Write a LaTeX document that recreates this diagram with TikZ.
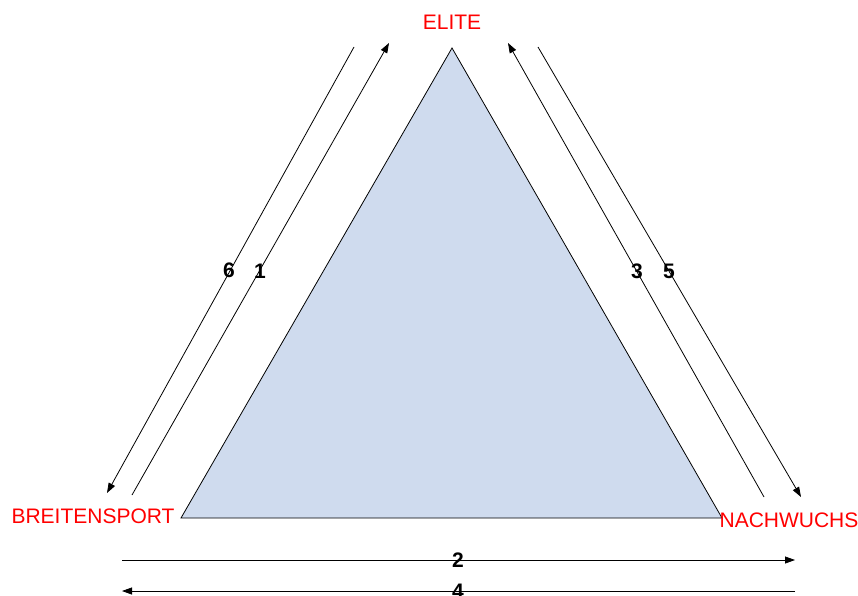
\documentclass[tikz,border=0pt]{standalone}
\usepackage{fontspec}
\setmainfont{Liberation Sans}
\usetikzlibrary{arrows.meta}
\definecolor{trifill}{HTML}{CFDBEE}
\tikzset{
  lbl/.style={text=red, inner sep=0pt, font=\fontsize{21}{25}\selectfont},
  num/.style={inner sep=0pt, font=\fontsize{21}{25}\selectfont\bfseries},
  conn/.style={draw=black, line width=0.8pt, -{Triangle[length=10pt,width=7pt]}},
}
\begin{document}
\begin{tikzpicture}[x=1pt,y=-1pt]
\useasboundingbox (0,0) rectangle (858,596);
% triangle
\coordinate (apex) at (452,48);
\coordinate (bl) at (181,518);
\coordinate (br) at (722,518);
\filldraw[fill=trifill, draw=black, line width=0.8pt] (apex) -- (br) -- (bl) -- cycle;
% labels
\node[lbl] (elite) at (452,22) {ELITE};
\node[lbl] (breit) at (93,516) {BREITENSPORT};
\node[lbl] (nach) at (789,520) {NACHWUCHS};
% connector end points
\coordinate (a6s) at (354,47);  \coordinate (a6e) at (107,493);
\coordinate (a1s) at (132,495); \coordinate (a1e) at (389,43);
\coordinate (a3s) at (764,497); \coordinate (a3e) at (508,43);
\coordinate (a5s) at (538,47);  \coordinate (a5e) at (801,497);
\coordinate (a2s) at (122,560); \coordinate (a2e) at (795,560);
\coordinate (a4s) at (795,591); \coordinate (a4e) at (122,591);
\draw[conn] (a6s) -- (a6e);
\draw[conn] (a1s) -- (a1e);
\draw[conn] (a3s) -- (a3e);
\draw[conn] (a5s) -- (a5e);
\draw[conn] (a2s) -- (a2e);
\draw[conn] (a4s) -- (a4e);
% numbers
\node[num] (n6) at (229,270) {6};
\node[num] (n1) at (260,271) {1};
\node[num] (n3) at (637,271) {3};
\node[num] (n5) at (669,271) {5};
\node[num] (n2) at (458,560) {2};
\node[num] (n4) at (458,591) {4};
\end{tikzpicture}
\end{document}
